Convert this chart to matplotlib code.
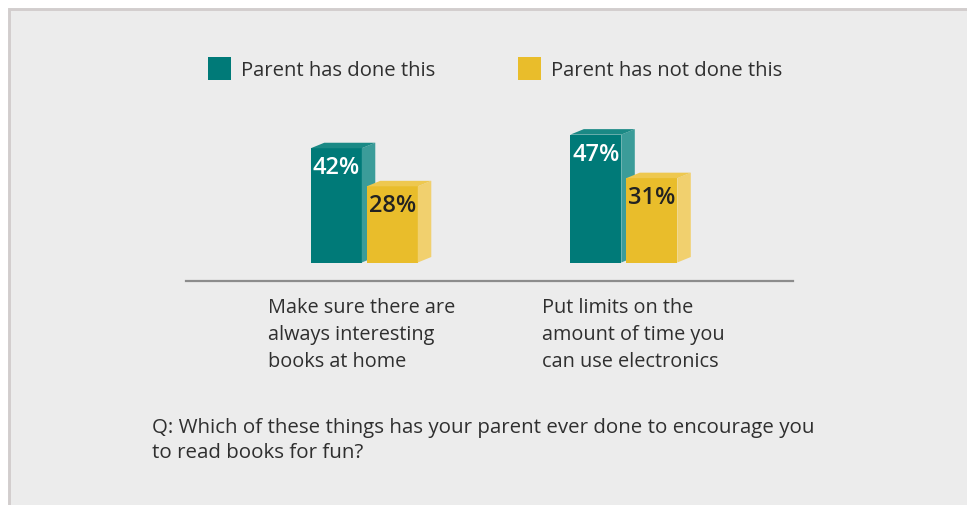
import matplotlib
matplotlib.use("Agg")
import matplotlib.pyplot as plt
from matplotlib.patches import Polygon, Rectangle

# ---------------- data ----------------
categories = ["Make sure there are\nalways interesting\nbooks at home",
              "Put limits on the\namount of time you\ncan use electronics"]
series_names = ["Parent has done this", "Parent has not done this"]
done = [42, 47]
not_done = [28, 31]
question = ("Q: Which of these things has your parent ever done to encourage you\n"
            "to read books for fun?")

# ---------------- style ----------------
W, H = 967, 506
FONT = ["Open Sans", "DejaVu Sans"]
TEXT = "#2f2f2f"
teal = {"front": "#007a78", "side": "#3b9c99", "top": "#1a8985"}
yellow = {"front": "#e9bd2b", "side": "#f1d06e", "top": "#eec84f"}

fig = plt.figure(figsize=(W / 100, H / 100), dpi=100)
fig.patch.set_facecolor("white")

# panel background with top/left border
fig.patches.append(Rectangle((8.7 / W, -0.1), 1.2, (H - 9.7) / H + 0.1,
                             transform=fig.transFigure, facecolor="#ececec",
                             edgecolor="#d2cdcd", linewidth=2.1, zorder=-5))

def px(x, y):
    return x / W, 1 - y / H

# ---------------- bars axes ----------------
ax = fig.add_axes([186 / W, 1 - 281.7 / H, 607 / W, 181.7 / H], zorder=2)
ax.set_xlim(-0.687, 1.652)
ax.set_ylim(-6.69, 60.1)
ax.patch.set_alpha(0)
for s in ["top", "left", "right"]:
    ax.spines[s].set_visible(False)
ax.spines["bottom"].set_color("#8c8c8c")
ax.spines["bottom"].set_linewidth(1.6)
ax.set_xticks([])
ax.set_yticks([])

xs = list(range(len(categories)))
bw = 51 / 259.5
off = 28 / 259.5
dx = 13.5 / 259.5
dy = 5.5 / 2.72

def draw3d(bars, col, z, label_color):
    for b in bars:
        x0 = b.get_x()
        x1 = x0 + b.get_width()
        v = b.get_height()
        side = Polygon([(x1, 0), (x1 + dx, dy), (x1 + dx, v + dy), (x1, v)],
                       closed=True, facecolor=col["side"], edgecolor="none", zorder=z)
        top = Polygon([(x0, v), (x0 + dx, v + dy), (x1 + dx, v + dy), (x1, v)],
                      closed=True, facecolor=col["top"], edgecolor="none", zorder=z)
        ax.add_patch(side)
        ax.add_patch(top)
        ax.text(x0 + b.get_width() / 2, v - 7.0, f"{v:g}%", ha="center", va="center",
                color=label_color, fontsize=17, fontweight="semibold", family=FONT,
                zorder=z + 0.5)

b1 = ax.bar([x - off for x in xs], done, width=bw, color=teal["front"], zorder=2)
draw3d(b1, teal, 2, "white")
b2 = ax.bar([x + off for x in xs], not_done, width=bw, color=yellow["front"], zorder=3)
draw3d(b2, yellow, 3, "#222222")

# ---------------- legend ----------------
leg_x = [207.7, 517.7]
for i, (name, col) in enumerate(zip(series_names, [teal, yellow])):
    x0, y0 = px(leg_x[i], 80.7)
    fig.patches.append(Rectangle((x0, y0), 23.3 / W, 23 / H, transform=fig.transFigure,
                                 facecolor=col["front"], edgecolor="none", zorder=1))
    tx, ty = px(leg_x[i] + 33.2, 76)
    fig.text(tx, ty, name, ha="left", va="baseline", fontsize=14.6,
             color=TEXT, family=FONT)

# ---------------- category labels ----------------
cat_x = [268, 542]
for i, cat in enumerate(categories):
    for j, line in enumerate(cat.split("\n")):
        tx, ty = px(cat_x[i], 313.3 + j * 26.7)
        fig.text(tx, ty, line, ha="left", va="baseline", fontsize=14.3,
                 color=TEXT, family=FONT)

# ---------------- question ----------------
for j, line in enumerate(question.split("\n")):
    tx, ty = px(152.3, 432.7 + j * 25.6)
    fig.text(tx, ty, line, ha="left", va="baseline", fontsize=14.75,
             color=TEXT, family=FONT)

fig.savefig("out.png", dpi=100, facecolor=fig.get_facecolor())
